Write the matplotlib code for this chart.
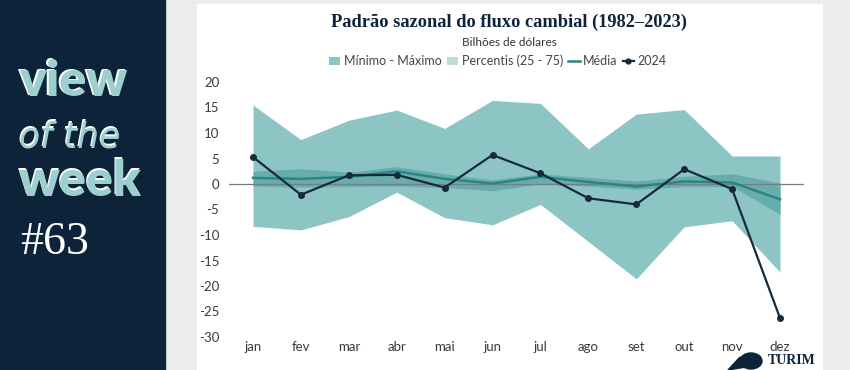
import matplotlib
matplotlib.use("Agg")
import matplotlib.pyplot as plt
from matplotlib.patches import Rectangle, Patch, Ellipse, Polygon
from matplotlib.lines import Line2D

months = ["jan", "fev", "mar", "abr", "mai", "jun", "jul", "ago", "set", "out", "nov", "dez"]
max_vals = [15.5, 8.7, 12.5, 14.5, 10.9, 16.4, 15.8, 6.9, 13.7, 14.6, 5.5, 5.5]
min_vals = [-8.3, -9.0, -6.4, -1.6, -6.6, -8.0, -4.0, -11.3, -18.6, -8.4, -7.2, -17.3]
p75_vals = [2.5, 3.0, 2.3, 3.4, 2.0, 0.8, 2.0, 1.3, 0.6, 1.5, 2.0, 0.2]
p25_vals = [-0.4, -0.6, -0.5, -0.4, -0.7, -1.3, 0.0, -0.4, -1.0, -0.5, -0.5, -5.9]
mean_vals = [1.2, 1.0, 1.4, 2.5, 1.0, 0.1, 1.4, 0.4, -0.5, 0.5, 0.3, -3.0]
y2024 = [5.3, -2.1, 1.7, 1.8, -0.7, 5.7, 2.1, -2.8, -4.0, 2.9, -1.0, -26.3]
yticks = [20, 15, 10, 5, 0, -5, -10, -15, -20, -25, -30]

c_navy = "#0c2339"
c_bg = "#ececec"
c_minmax = "#8dc5c5"
c_pct = "#69acac"
c_pct_legend = "#bcdcdc"
c_mean = "#2b8585"
c_2024 = "#152a3b"
c_teal_txt = "#9dcfcf"

W, H = 850, 370
fig = plt.figure(figsize=(W / 100, H / 100), dpi=100)
fig.patch.set_facecolor(c_bg)

# left navy panel and white card
fig.add_artist(Rectangle((0, 0), 165 / W, 1, transform=fig.transFigure, color=c_navy, zorder=0))
fig.add_artist(Rectangle((197 / W, 0), (822 - 197) / W, 1 - 4 / H, transform=fig.transFigure,
                         color="white", zorder=0))

# "view of the week #63"
def shadow_text(x, y, s, **kw):
    fig.text(x - 1.5 / W, y + 1.2 / H, s, color="white", **kw)
    fig.text(x, y, s, color=c_teal_txt, **kw)

shadow_text(19 / W, 1 - 82 / H, "view", fontsize=36, fontweight="heavy", family="Lato", va="center", ha="left")
shadow_text(19 / W, 1 - 137 / H, "of the", fontsize=25, style="oblique", family="DejaVu Sans",
            va="center", ha="left")
shadow_text(19 / W, 1 - 181 / H, "week", fontsize=36, fontweight="heavy", family="Lato", va="center", ha="left")
fig.text(20 / W, 1 - 243 / H, "#63", color="white", fontsize=33, family="Liberation Serif",
         va="center", ha="left")

# axes
ax = fig.add_axes([229 / W, 1 - 337 / H, (804 - 229) / W, (337 - 82) / H])
ax.set_facecolor("none")
x = list(range(len(months)))
ax.fill_between(x, min_vals, max_vals, color=c_minmax, lw=0, zorder=1)
ax.fill_between(x, p25_vals, p75_vals, color=c_pct, lw=0, zorder=2)
ax.axhline(0, color="#6f7f86", lw=0.9, zorder=3)
ax.plot(x, mean_vals, color=c_mean, lw=1.8, zorder=4)
ax.plot(x, y2024, color=c_2024, lw=1.6, marker="o", ms=4, zorder=5)

ax.set_xlim(-0.5, 11.5)
ax.set_ylim(-30, 20)
ax.set_yticks(yticks)
ax.set_yticklabels([str(v) for v in yticks])
ax.set_xticks(x)
ax.set_xticklabels(months)
for s in ax.spines.values():
    s.set_visible(False)
ax.tick_params(length=0, labelsize=9.5, colors="#3a3a3a")
ax.tick_params(axis="x", pad=3)
ax.tick_params(axis="y", pad=7)
for lab in ax.get_xticklabels() + ax.get_yticklabels():
    lab.set_family("Lato")

# title, subtitle, legend
fig.text(509 / W, 1 - 22 / H, "Padrão sazonal do fluxo cambial (1982–2023)", ha="center", va="center",
         fontsize=13.2, fontweight="bold", family="Liberation Serif", color=c_navy)
fig.text(509 / W, 1 - 42 / H, "Bilhões de dólares", ha="center", va="center", fontsize=8.5,
         family="Lato", color="#333333")

handles = [
    Patch(facecolor=c_minmax, edgecolor="none"),
    Patch(facecolor=c_pct_legend, edgecolor="none"),
    Line2D([], [], color=c_mean, lw=1.8),
    Line2D([], [], color=c_2024, lw=1.6, marker="o", ms=3.5),
]
labels = ["Mínimo - Máximo", "Percentis (25 - 75)", "Média", "2024"]
leg = fig.legend(handles, labels, loc="center", bbox_to_anchor=(498 / W, 1 - 61 / H), ncol=4,
                 frameon=False, handlelength=0.9, handleheight=0.7,
                 handletextpad=0.3, columnspacing=0.4, prop={"family": "Lato", "size": 9})
for t in leg.get_texts():
    t.set_color("#444444")

# logo
fig.text(816 / W, 1 - 361 / H, "TURIM", ha="right", va="center", fontsize=10, fontweight="bold",
         family="Liberation Serif", color=c_navy)
fig.add_artist(Ellipse((751 / W, 1 - 361 / H), 22 / W, 16 / H, transform=fig.transFigure,
                       color=c_navy, zorder=3))
fig.add_artist(Polygon([(728 / W, 1 - 370 / H), (740 / W, 1 - 357 / H), (746 / W, 1 - 367 / H)],
                       closed=True, transform=fig.transFigure, color=c_navy, zorder=3))

fig.savefig("out.png", dpi=100, facecolor=fig.get_facecolor())
